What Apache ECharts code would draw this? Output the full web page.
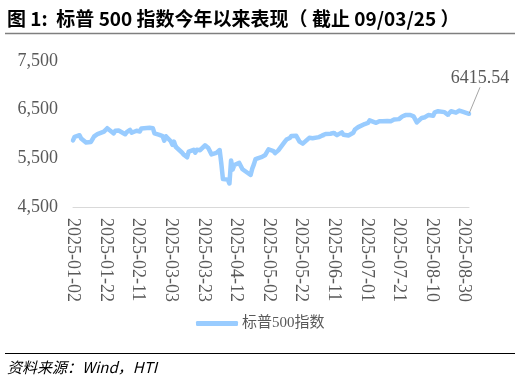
<!DOCTYPE html>
<html>
<head>
<meta charset="utf-8">
<script src="https://cdn.jsdelivr.net/npm/echarts@6/dist/echarts.min.js"></script>
<style>
html,body{margin:0;padding:0;background:#fff;}
#c{width:521px;height:382px;}
</style>
</head>
<body>
<div id="c"></div>
<script>
// Trading days (2025, MM-DD) and S&P 500 closes
const tradeDates = [
"01-02","01-03","01-06","01-07","01-08","01-10","01-13","01-14","01-15","01-16","01-17","01-21","01-22","01-23","01-24","01-27","01-28","01-29","01-30","01-31",
"02-03","02-04","02-05","02-06","02-07","02-10","02-11","02-12","02-13","02-14","02-18","02-19","02-20","02-21","02-24","02-25","02-26","02-27","02-28",
"03-03","03-04","03-05","03-06","03-07","03-10","03-11","03-12","03-13","03-14","03-17","03-18","03-19","03-20","03-21","03-24","03-25","03-26","03-27","03-28","03-31",
"04-01","04-02","04-03","04-04","04-07","04-08","04-09","04-10","04-11","04-14","04-15","04-16","04-17","04-21","04-22","04-23","04-24","04-25","04-28","04-29","04-30",
"05-01","05-02","05-05","05-06","05-07","05-08","05-09","05-12","05-13","05-14","05-15","05-16","05-19","05-20","05-21","05-22","05-23","05-27","05-28","05-29","05-30",
"06-02","06-03","06-04","06-05","06-06","06-09","06-10","06-11","06-12","06-13","06-16","06-17","06-18","06-20","06-23","06-24","06-25","06-26","06-27","06-30",
"07-01","07-02","07-03","07-07","07-08","07-09","07-10","07-11","07-14","07-15","07-16","07-17","07-18","07-21","07-22","07-23","07-24","07-25","07-28","07-29","07-30","07-31",
"08-01","08-04","08-05","08-06","08-07","08-08","08-11","08-12","08-13","08-14","08-15","08-18","08-19","08-20","08-21","08-22","08-25","08-26","08-27","08-28","08-29",
"09-02"
];
const spx = [
5868.55,5942.47,5975.38,5909.03,5918.25,5827.04,5836.22,5842.91,5949.91,5937.34,5996.66,6049.24,6086.37,6118.71,6101.24,6012.28,6067.70,6039.31,6071.17,6040.53,
5994.57,6037.88,6061.48,6083.57,6025.99,6066.44,6068.50,6051.97,6115.07,6114.63,6129.58,6144.15,6117.52,6013.13,5983.25,5955.25,5956.06,5861.57,5954.50,
5849.72,5778.15,5842.63,5738.52,5770.20,5614.56,5572.07,5599.30,5521.52,5638.94,5675.12,5614.66,5675.29,5662.89,5667.56,5767.57,5776.65,5712.20,5693.31,5580.94,5611.85,
5633.07,5670.97,5396.52,5074.08,5062.25,4982.77,5456.90,5268.05,5363.36,5405.97,5396.63,5275.70,5282.70,5158.20,5287.76,5375.86,5484.77,5525.21,5528.75,5560.83,5569.06,
5604.14,5686.67,5650.38,5606.91,5631.28,5663.94,5659.91,5844.19,5886.55,5892.58,5916.93,5958.38,5963.60,5940.46,5844.61,5842.01,5802.82,5921.54,5888.55,5912.17,5911.69,
5935.94,5970.37,5970.81,5939.30,6000.36,6005.88,6038.81,6022.24,6045.26,5976.97,6033.11,5982.72,5980.87,5967.84,6025.17,6092.18,6092.16,6141.02,6173.07,6204.95,
6198.01,6227.42,6279.35,6229.98,6225.52,6263.26,6280.46,6259.75,6268.56,6243.76,6263.70,6297.36,6296.79,6305.60,6309.62,6358.91,6363.35,6388.64,6389.77,6370.86,6362.90,6339.39,
6238.01,6329.94,6299.19,6345.06,6340.00,6389.45,6373.45,6445.76,6466.58,6468.54,6449.80,6449.15,6411.37,6395.78,6370.17,6466.91,6439.32,6465.94,6481.40,6501.86,6460.26,
6415.54
];
const year = "2025";
const seriesName = "标普500指数";
const yTicks = [4500, 5500, 6500, 7500];
const titleText = "图 1:  标普 500 指数今年以来表现（ 截止 09/03/25 ）";
const sourceText = "资料来源：Wind，HTI";

// Build calendar-day category axis (date axis like the original)
const categories = [];
{
  const first = new Date(Date.UTC(2025, 0, 2));
  const last = new Date(Date.UTC(2025, 8, 2));
  for (let d = first; d <= last; d = new Date(d.getTime() + 86400000)) {
    categories.push(d.toISOString().slice(0, 10));
  }
}
const valueByDate = {};
tradeDates.forEach((md, i) => { valueByDate[year + "-" + md] = spx[i]; });
const lastIdx = categories.length - 1;
const lineData = categories.map((c, i) => {
  const v = valueByDate[c];
  if (v === undefined) return null;
  if (i === lastIdx) {
    return { value: v, label: { show: true } };
  }
  return v;
});

const chart = echarts.init(document.getElementById('c'), null, { renderer: 'canvas' });
const serif = '"Liberation Serif", "Times New Roman", "Noto Sans CJK SC", serif';
chart.setOption({
  animation: false,
  backgroundColor: '#ffffff',
  title: {
    text: titleText,
    left: 2, top: 4,
    textStyle: { fontFamily: '"Noto Sans CJK SC", sans-serif', fontWeight: 'bold', fontSize: 19, color: '#000' }
  },
  grid: { left: 73, right: 52, top: 61, bottom: 175, containLabel: false },
  legend: {
    left: 191, top: 311,
    itemWidth: 42, itemHeight: 5,
    itemGap: 10,
    data: [{ name: seriesName, icon: 'roundRect' }],
    textStyle: { fontFamily: '"Liberation Serif", "Noto Sans CJK SC", serif', fontSize: 15, color: '#595959', padding: [0, 0, 0, -1] }
  },
  xAxis: {
    type: 'category',
    data: categories,
    boundaryGap: false,
    axisLine: { lineStyle: { color: '#D9D9D9', width: 1 } },
    axisTick: { show: false },
    axisLabel: {
      interval: 19,
      rotate: -90,
      margin: 11,
      fontFamily: serif,
      fontSize: 18,
      color: '#595959'
    },
    splitLine: { show: false }
  },
  yAxis: {
    type: 'value',
    min: yTicks[0], max: yTicks[yTicks.length - 1], interval: 1000,
    axisLine: { show: false },
    axisTick: { show: false },
    splitLine: { show: false },
    axisLabel: {
      margin: 15,
      fontFamily: serif,
      fontSize: 18,
      color: '#595959',
      formatter: v => v.toLocaleString('en-US')
    }
  },
  series: [{
    name: seriesName,
    type: 'line',
    data: lineData,
    connectNulls: true,
    symbol: 'circle',
    symbolSize: 1,
    showSymbol: true,
    showAllSymbol: true,
    color: '#99CCFF',
    itemStyle: { color: '#99CCFF' },
    lineStyle: { color: '#99CCFF', width: 4.5, cap: 'round', join: 'round' },
    label: {
      show: false,
      position: 'top',
      distance: 5,
      fontFamily: serif,
      fontSize: 18,
      color: '#595959',
      formatter: p => p.value.toFixed(2)
    },
    labelLine: { show: true, lineStyle: { color: '#A6A6A6', width: 1 } },
    labelLayout: { dx: 11, dy: -21 },
    emphasis: { disabled: true }
  }],
  graphic: [
    { type: 'line', shape: { x1: 5, y1: 33.5, x2: 515, y2: 33.5 }, style: { stroke: '#7F7F7F', lineWidth: 1.5 } },
    { type: 'line', shape: { x1: 5, y1: 353.5, x2: 515, y2: 353.5 }, style: { stroke: '#000000', lineWidth: 1 } },
    { type: 'text', left: 7, top: 360, style: { text: sourceText, font: 'italic 15px "Noto Sans CJK SC", "Liberation Sans", sans-serif', fill: '#000' } }
  ]
});
</script>
</body>
</html>
